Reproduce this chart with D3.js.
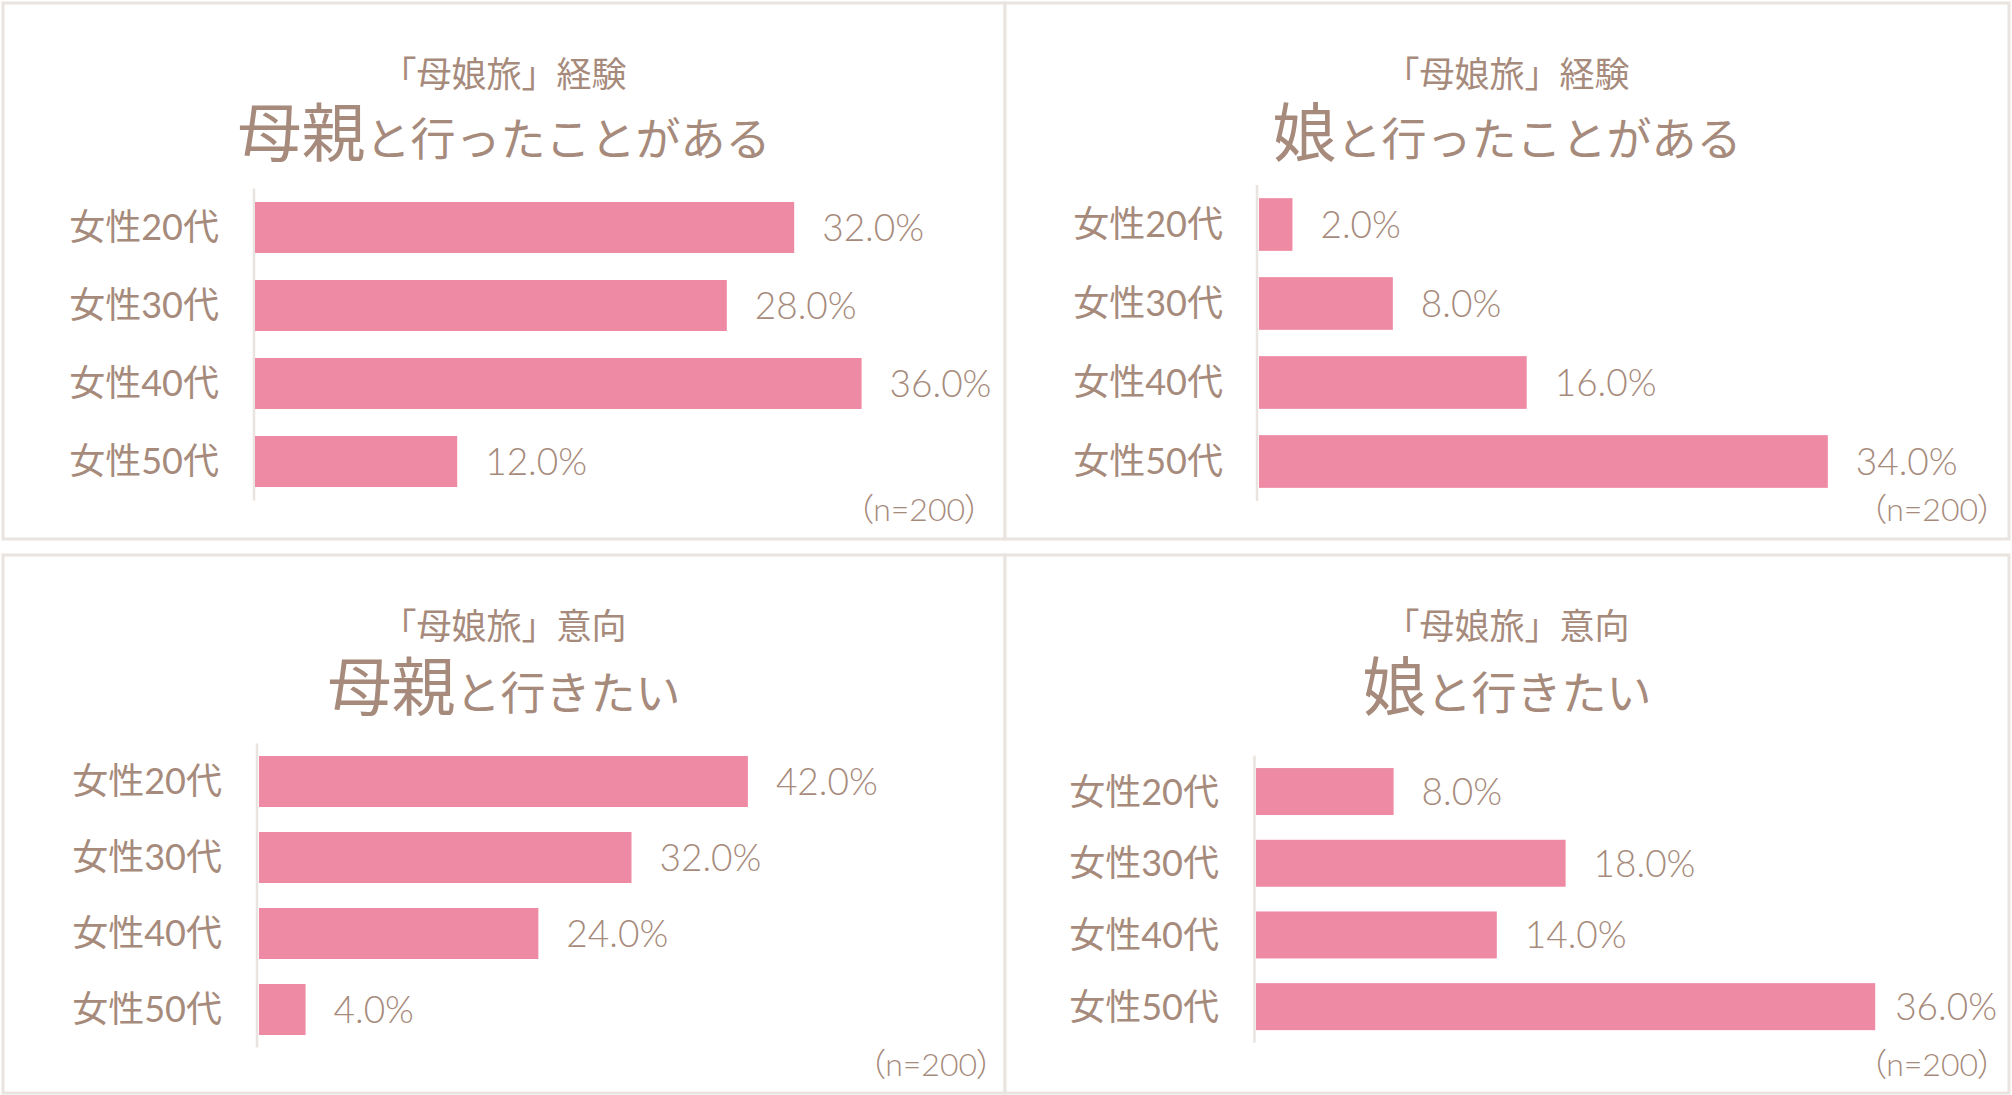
<!DOCTYPE html>
<html>
<head>
<meta charset="utf-8">
<script src="https://cdn.jsdelivr.net/npm/d3@7"></script>
<style>
  html, body { margin: 0; padding: 0; background: #ffffff; }
  svg { display: block; }
  text { font-family: "Lato", "Noto Sans CJK JP", sans-serif; fill: #a68a7b; }
  .ttl { font-family: "Noto Sans CJK JP", sans-serif; }
  .note { font-feature-settings: "palt"; font-weight: 300; }
  .val { font-weight: 300; }
</style>
</head>
<body>
<svg id="chart" width="2012" height="1095"></svg>
<script>
// ---- data ----
const categories = ["女性20代", "女性30代", "女性40代", "女性50代"];
const subtitles = ["「母娘旅」経験", "「母娘旅」経験", "「母娘旅」意向", "「母娘旅」意向"];
const titleLead = ["母親", "娘", "母親", "娘"];
const titleRest = ["と行ったことがある", "と行ったことがある", "と行きたい", "と行きたい"];
const motherExperience = [32, 28, 36, 12];
const daughterExperience = [2, 8, 16, 34];
const motherIntention = [42, 32, 24, 4];
const daughterIntention = [8, 18, 14, 36];
const sampleNote = "（n=200）";

const seriesList = [motherExperience, daughterExperience, motherIntention, daughterIntention];

// ---- layout (positions only) ----
const panels = [
  { x0: 3,    x1: 1005, y0: 3,   y1: 539,  cx: 504,  subY: 87,  titleY: 156,
    axisX: 254,  barX: 255,  pxPerPct: 16.85, band: [188.5, 500.5], pad: 0.346, lblRight: 219, noteX: 981,  noteY: 521 },
  { x0: 1005, x1: 2009, y0: 3,   y1: 539,  cx: 1507, subY: 87,  titleY: 156,
    axisX: 1257, barX: 1259, pxPerPct: 16.73, band: [185, 501],   pad: 0.333, lblRight: 1223, noteX: 1994, noteY: 521 },
  { x0: 3,    x1: 1005, y0: 555, y1: 1093, cx: 504,  subY: 639, titleY: 710,
    axisX: 257,  barX: 259,  pxPerPct: 11.64, band: [743.5, 1047.5], pad: 0.329, lblRight: 222, noteX: 993,  noteY: 1076 },
  { x0: 1005, x1: 2009, y0: 555, y1: 1093, cx: 1507, subY: 639, titleY: 710,
    axisX: 1254.5, barX: 1256, pxPerPct: 17.2, band: [755.7, 1042.5], pad: 0.345, lblRight: 1219, noteX: 1994, noteY: 1076 }
];

const svg = d3.select("#chart");
const fmt = d3.format(".1f");

panels.forEach((p, i) => {
  const g = svg.append("g");
  const values = seriesList[i];

  // panel frame
  g.append("rect")
    .attr("x", p.x0).attr("y", p.y0)
    .attr("width", p.x1 - p.x0).attr("height", p.y1 - p.y0)
    .attr("fill", "#ffffff")
    .attr("stroke", "#e9e4df").attr("stroke-width", 3);

  // titles
  g.append("text").attr("class", "ttl")
    .attr("x", p.cx).attr("y", p.subY)
    .attr("text-anchor", "middle")
    .style("font-size", "35px")
    .text(subtitles[i]);

  const t = g.append("text").attr("class", "ttl")
    .attr("x", p.cx).attr("y", p.titleY)
    .attr("text-anchor", "middle");
  t.append("tspan").style("font-size", "64px").text(titleLead[i]);
  t.append("tspan").style("font-size", "45px").text(titleRest[i]);

  // scales
  const y = d3.scaleBand()
    .domain(categories)
    .range(p.band)
    .paddingInner(p.pad)
    .paddingOuter(p.pad / 2);
  const x = d3.scaleLinear()
    .domain([0, 100])
    .range([p.barX, p.barX + 100 * p.pxPerPct]);

  // axis line
  g.append("line")
    .attr("x1", p.axisX).attr("x2", p.axisX)
    .attr("y1", p.band[0]).attr("y2", p.band[1])
    .attr("stroke", "#e9e4df").attr("stroke-width", 2.5);

  // category labels via d3 axis
  const axis = d3.axisLeft(y).tickSize(0).tickPadding(0);
  const ag = g.append("g")
    .attr("transform", `translate(${p.lblRight},0)`)
    .call(axis);
  ag.select(".domain").remove();
  ag.selectAll("text")
    .attr("fill", "#a68a7b")
    .style("font-family", "Lato, 'Noto Sans CJK JP', sans-serif")
    .style("font-weight", "400")
    .style("font-size", "36px")
    .attr("dy", "0.36em");

  // bars
  g.selectAll("rect.bar")
    .data(values)
    .join("rect")
    .attr("class", "bar")
    .attr("x", x(0))
    .attr("y", (d, k) => y(categories[k]))
    .attr("width", d => x(d) - x(0))
    .attr("height", y.bandwidth())
    .attr("fill", "#ee8aa4");

  // value labels
  const labels = g.selectAll("text.val")
    .data(values)
    .join("text")
    .attr("class", "val")
    .attr("y", (d, k) => y(categories[k]) + y.bandwidth() / 2)
    .attr("dy", "0.36em")
    .style("font-size", "37px")
    .text(d => fmt(d) + "%");
  labels.each(function(d) {
    const w = this.getComputedTextLength();
    const xs = Math.min(x(d) + 28, p.x1 - 12 - w);
    d3.select(this).attr("x", xs);
  });

  // sample note
  g.append("text").attr("class", "note")
    .attr("x", p.noteX).attr("y", p.noteY)
    .attr("text-anchor", "end")
    .style("font-size", "32px")
    .text(sampleNote);
});
</script>
</body>
</html>
